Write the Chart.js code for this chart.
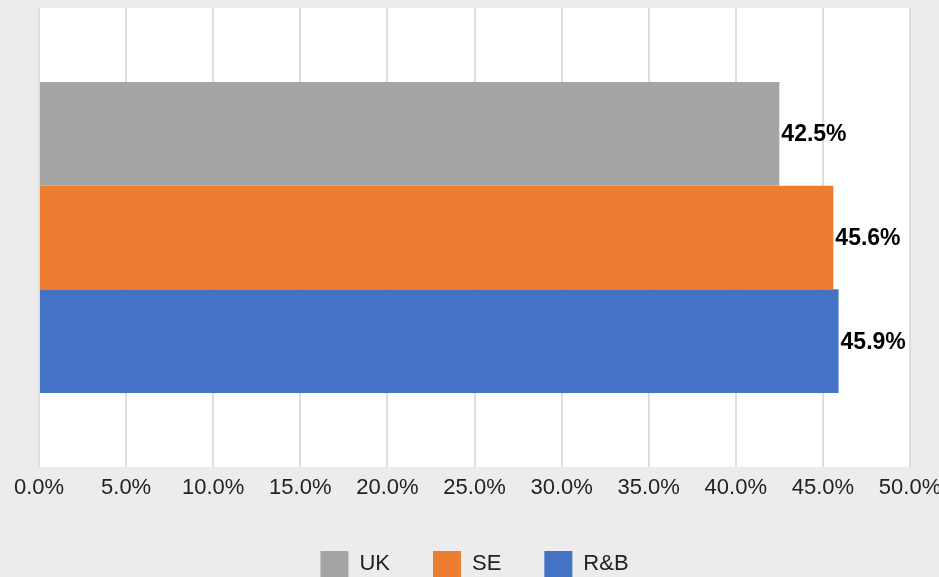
<!DOCTYPE html>
<html>
<head>
<meta charset="utf-8">
<script src="https://cdn.jsdelivr.net/npm/chart.js@4"></script>
<style>
  html, body { margin: 0; padding: 0; background: #ececec; overflow: hidden; }
  #wrap { width: 939px; height: 587px; }
</style>
</head>
<body>
<div id="wrap"><canvas id="chart" width="939" height="587"></canvas></div>
<script>
// values
const categories = [''];
const seriesNames = ['UK', 'SE', 'R&B'];
const seriesValues = [[42.5], [45.6], [45.9]];
const seriesColors = ['#a5a5a5', '#ed7d31', '#4472c4'];
const xTicks = [0, 5, 10, 15, 20, 25, 30, 35, 40, 45, 50];

// white plot background
const plotBg = {
  id: 'plotBg',
  beforeDraw(chart) {
    const a = chart.chartArea;
    const ctx = chart.ctx;
    ctx.save();
    ctx.fillStyle = '#ffffff';
    ctx.fillRect(a.left, a.top, a.right - a.left, a.bottom - a.top);
    ctx.restore();
  }
};

// value labels at the end of each bar
const barLabels = {
  id: 'barLabels',
  afterDatasetsDraw(chart) {
    const ctx = chart.ctx;
    ctx.save();
    ctx.font = 'bold 23px "Liberation Sans", Arial, sans-serif';
    ctx.fillStyle = '#000000';
    ctx.textAlign = 'left';
    ctx.textBaseline = 'middle';
    chart.data.datasets.forEach((ds, i) => {
      chart.getDatasetMeta(i).data.forEach((bar, j) => {
        ctx.fillText(ds.data[j].toFixed(1) + '%', bar.x + 2, bar.y + 1);
      });
    });
    ctx.restore();
  }
};

const datasets = seriesNames.map((name, i) => ({
  label: name,
  data: seriesValues[i],
  backgroundColor: seriesColors[i],
  borderWidth: 0,
  categoryPercentage: 0.678,
  barPercentage: 1
}));

new Chart(document.getElementById('chart'), {
  type: 'bar',
  data: { labels: categories, datasets: datasets },
  options: {
    indexAxis: 'y',
    responsive: false,
    animation: false,
    devicePixelRatio: 1,
    layout: { padding: { left: 39, right: 29, top: 8, bottom: 0 } },
    scales: {
      x: {
        min: 0,
        max: 50,
        afterBuildTicks(scale) { scale.ticks = xTicks.map(v => ({ value: v })); },
        afterFit(scale) {
          scale.paddingLeft = 0;
          scale.paddingRight = 0;
          scale.height = 41;
        },
        grid: { color: '#dedede', lineWidth: 2, drawTicks: false },
        border: { display: false },
        ticks: {
          padding: 8,
          color: '#222222',
          font: { family: '"Liberation Sans", Arial, sans-serif', size: 22 },
          callback: v => v.toFixed(1) + '%'
        }
      },
      y: { display: false }
    },
    plugins: {
      legend: {
        position: 'bottom',
        labels: {
          boxWidth: 28,
          boxHeight: 26,
          padding: 43,
          color: '#222222',
          font: { family: '"Liberation Sans", Arial, sans-serif', size: 22 }
        }
      },
      tooltip: { enabled: false }
    }
  },
  plugins: [plotBg, barLabels]
});
</script>
</body>
</html>
